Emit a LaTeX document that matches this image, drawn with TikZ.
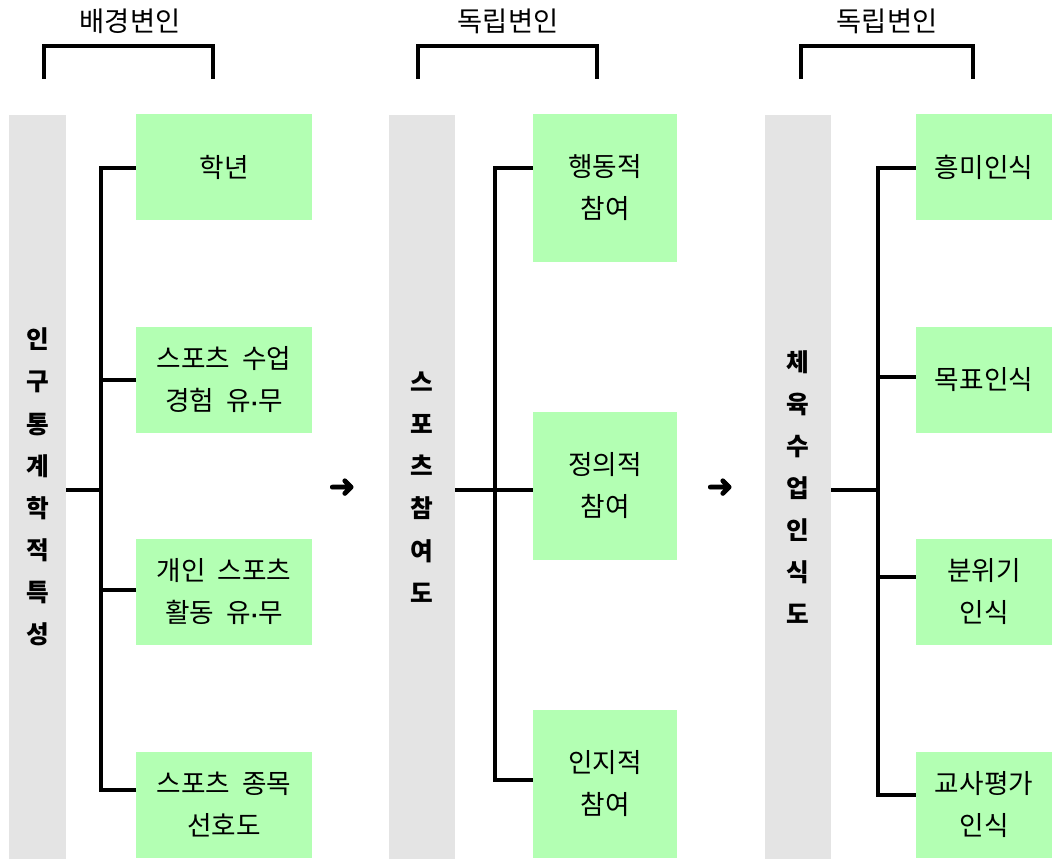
\documentclass[tikz,border=0pt]{standalone}
\usepackage{fontspec}
\setmainfont{Noto Sans CJK KR}
\newfontfamily\symfont{DejaVu Sans}
\newfontfamily\symheavy[FakeBold=2.5]{DejaVu Sans}
\newcommand{\mdot}{{\symfont\fontsize{14}{14}\selectfont\textbf{·}}}
\newcommand{\wsp}{\hspace{0.45em}}
\definecolor{boxgreen}{RGB}{179,255,179}
\definecolor{bargray}{RGB}{228,228,228}
\begin{document}
\begin{tikzpicture}[x=0.75pt,y=-0.75pt,
  txt/.style={font=\fontsize{20}{31.5}\selectfont},
  greenbox/.style={fill=boxgreen,draw=none,inner sep=0pt,align=center,txt},
  graybar/.style={fill=bargray,draw=none,inner sep=0pt,align=center,
    minimum height=558pt,font=\fontsize{18.5}{31.6}\selectfont\bfseries},
  wideA/.style={minimum width=132pt,minimum height=79.5pt},
  wideB/.style={minimum width=108pt,minimum height=111pt},
  wideC/.style={minimum width=102pt,minimum height=79.5pt},
  conn/.style={line width=2.3pt},
  brack/.style={line width=2.3pt},
  toplabel/.style={font=\fontsize{20.5}{24}\selectfont,inner sep=0pt},
  arrowglyph/.style={font=\symheavy\fontsize{24}{24}\selectfont,inner sep=0pt}]
\useasboundingbox (0,0) rectangle (1053,859);

% gray bars
\node[graybar,minimum width=42.75pt] (bar1) at (37.5,487)
  {인\\구\\통\\계\\학\\적\\특\\성};
\node[graybar,minimum width=49.5pt] (bar2) at (422,487)
  {스\\포\\츠\\참\\여\\도};
\node[graybar,minimum width=49.5pt] (bar3) at (798,487)
  {체\\육\\수\\업\\인\\식\\도};

% column 1 boxes
\node[greenbox,wideA] (a1) at (224,167) {학년};
\node[greenbox,wideA] (a2) at (224,380) {스포츠\wsp 수업\\경험\wsp 유\mdot 무};
\node[greenbox,wideA] (a3) at (224,592) {개인\wsp 스포츠\\활동\wsp 유\mdot 무};
\node[greenbox,wideA] (a4) at (224,805) {스포츠\wsp 종목\\선호도};

% column 2 boxes
\node[greenbox,wideB] (b1) at (605,188) {행동적\\참여};
\node[greenbox,wideB] (b2) at (605,486) {정의적\\참여};
\node[greenbox,wideB] (b3) at (605,784) {인지적\\참여};

% column 3 boxes
\node[greenbox,wideC] (c1) at (984,167) {흥미인식};
\node[greenbox,wideC] (c2) at (984,380) {목표인식};
\node[greenbox,wideC] (c3) at (984,592) {분위기\\인식};
\node[greenbox,wideC] (c4) at (984,805) {교사평가\\인식};

% top labels and brackets
\node[toplabel] (l1) at (130,21) {배경변인};
\node[toplabel] (l2) at (508,21) {독립변인};
\node[toplabel] (l3) at (887,21) {독립변인};
\coordinate (k1a) at (44,79);  \coordinate (k1b) at (213,79);
\coordinate (k2a) at (418,79); \coordinate (k2b) at (597,79);
\coordinate (k3a) at (801,79); \coordinate (k3b) at (973,79);
\draw[brack] (k1a) -- ++(0,-33) -| (k1b);
\draw[brack] (k2a) -- ++(0,-33) -| (k2b);
\draw[brack] (k3a) -- ++(0,-33) -| (k3b);

% arrows between groups
\node[arrowglyph] (arr1) at (342,488) {➜};
\node[arrowglyph] (arr2) at (720,488) {➜};

% column 1 connectors
\coordinate (t1) at (101,490);
\coordinate (j11) at (101,168);
\coordinate (j12) at (101,380);
\coordinate (j13) at (101,590);
\coordinate (j14) at (101,790);
\draw[conn] (bar1.east |- t1) -- (t1);
\draw[conn] (j11 -| a1.west) -- (j11) -- (j14) -- (j14 -| a4.west);
\draw[conn] (j12) -- (j12 -| a2.west);
\draw[conn] (j13) -- (j13 -| a3.west);

% column 2 connectors
\coordinate (t2) at (495,490);
\coordinate (j21) at (495,168);
\coordinate (j23) at (495,780);
\draw[conn] (bar2.east |- t2) -- (t2 -| b2.west);
\draw[conn] (j21 -| b1.west) -- (j21) -- (j23) -- (j23 -| b3.west);

% column 3 connectors
\coordinate (t3) at (878,490);
\coordinate (j31) at (878,168);
\coordinate (j32) at (878,377);
\coordinate (j33) at (878,577);
\coordinate (j34) at (878,795);
\draw[conn] (bar3.east |- t3) -- (t3);
\draw[conn] (j31 -| c1.west) -- (j31) -- (j34) -- (j34 -| c4.west);
\draw[conn] (j32) -- (j32 -| c2.west);
\draw[conn] (j33) -- (j33 -| c3.west);
\end{tikzpicture}
\end{document}
